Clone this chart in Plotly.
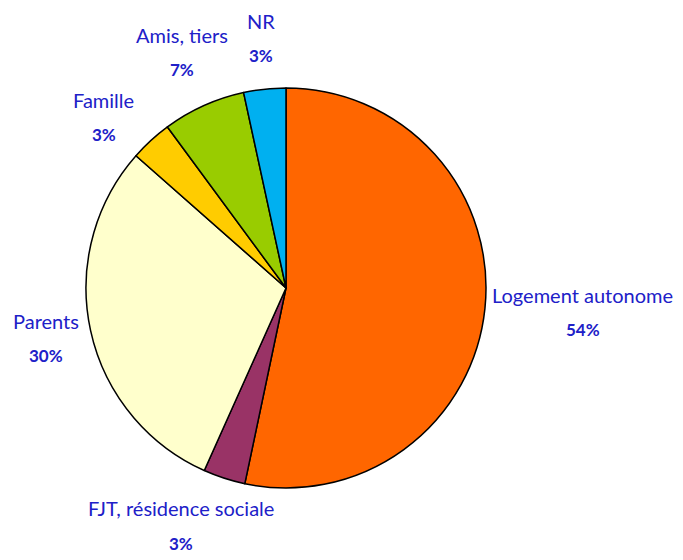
import math
import plotly.graph_objects as go

categories = ["Logement autonome", "FJT, résidence sociale", "Parents",
              "Famille", "Amis, tiers", "NR"]
shares = [53.3, 3.4, 29.8, 3.4, 6.7, 3.4]
pct_labels = ["54%", "3%", "30%", "3%", "7%", "3%"]
colors = ["#FF6600", "#993366", "#FFFFCC", "#FFCC00", "#99CC00", "#00B0F0"]

PAGE = 8                       # default body margin of the html page
W, H = 683 - PAGE, 560 - PAGE
CX, CY, R = 286 - PAGE, 288 - PAGE, 200   # pie centre and radius in figure pixels
TXT = "#2020C8"
FONT = "Lato"
NAME_SIZE, PCT_SIZE = 20, 17
GAP, BLOCK_H, LINE_OFF, PAD = 8, 55, 17.5, 10

fig = go.Figure(go.Pie(
    labels=categories,
    values=shares,
    sort=False,
    direction="clockwise",
    rotation=0,
    marker=dict(colors=colors, line=dict(color="black", width=1.5)),
    textinfo="none",
    hoverinfo="label+percent",
    domain=dict(x=[(CX - R) / W, (CX + R) / W],
                y=[1 - (CY + R) / H, 1 - (CY - R) / H]),
))

# label blocks sit outside the rim, pushed further out for top/bottom slices
total = sum(shares)
cum = 0.0
boxes = []
for name, v in zip(categories, shares):
    mid = (cum + v / 2) / total * 2 * math.pi
    cum += v
    s, c = math.sin(mid), math.cos(mid)
    w = len(name) * NAME_SIZE * 0.53
    gap = GAP + 16 * c * c
    bx = CX + s * (R + gap) + w / 2 * s
    by = CY - c * (R + gap) - BLOCK_H / 2 * c
    boxes.append([bx, by, w, BLOCK_H + PAD])

# push overlapping label blocks apart
for _ in range(5):
    for i in range(len(boxes)):
        for j in range(i + 1, len(boxes)):
            xi, yi, wi, hi = boxes[i]
            xj, yj, wj, hj = boxes[j]
            dx, dy = xj - xi, yj - yi
            ox = (wi + wj) / 2 - abs(dx)
            oy = (hi + hj) / 2 - abs(dy)
            if ox > 0 and oy > 0:
                d = math.hypot(dx, dy) or 1
                ux, uy = dx / d, dy / d
                t = min(ox / abs(ux) if ux else 1e9, oy / abs(uy) if uy else 1e9) / 2
                boxes[i][0] -= ux * t
                boxes[i][1] -= uy * t
                boxes[j][0] += ux * t
                boxes[j][1] += uy * t

for (bx, by, _, _), name, pct in zip(boxes, categories, pct_labels):
    fig.add_annotation(x=bx / W, y=1 - (by - LINE_OFF) / H, xref="paper", yref="paper",
                       text=name, showarrow=False, xanchor="center", yanchor="middle",
                       font=dict(family=FONT, size=NAME_SIZE, color=TXT))
    fig.add_annotation(x=bx / W, y=1 - (by + LINE_OFF) / H, xref="paper", yref="paper",
                       text=f"<b>{pct}</b>", showarrow=False, xanchor="center", yanchor="middle",
                       font=dict(family=FONT, size=PCT_SIZE, color=TXT))

fig.update_layout(
    width=W, height=H,
    margin=dict(l=0, r=0, t=0, b=0),
    paper_bgcolor="white",
    showlegend=False,
)

fig.write_html("out.html")
